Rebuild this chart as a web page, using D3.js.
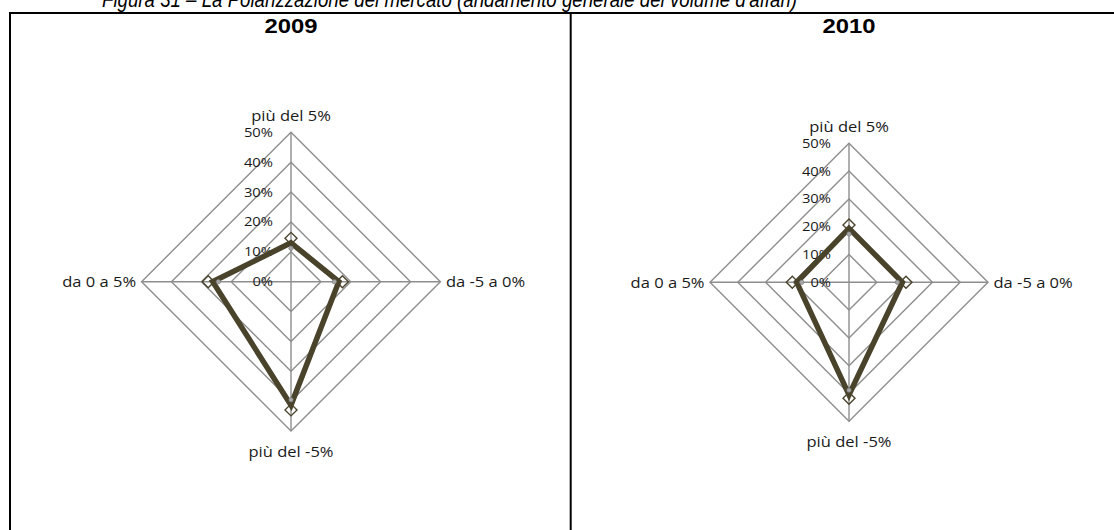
<!DOCTYPE html>
<html>
<head>
<meta charset="utf-8">
<script src="https://cdn.jsdelivr.net/npm/d3@7"></script>
<style>
  body { margin: 0; background: #fff; }
  svg { display: block; }
</style>
</head>
<body>
<div id="chart"></div>
<script>
// categories, clockwise from the top
var categories = ["più del 5%", "da -5 a 0%", "più del -5%", "da 0 a 5%"];
var years = ["2009", "2010"];
var tickValues = [0, 0.1, 0.2, 0.3, 0.4, 0.5];

// thick line series
var line2009 = [0.13, 0.16, 0.413, 0.262];
var line2010 = [0.194, 0.192, 0.405, 0.188];
// hollow diamond markers
var diamond2009 = [0.145, 0.172, 0.429, 0.277];
var diamond2010 = [0.206, 0.205, 0.417, 0.204];
// small grey dots
var dot2009 = [0.112, 0.145, 0.395, 0.243];
var dot2010 = [0.174, 0.174, 0.388, 0.17];

var width = 1114, height = 530;
var stretch = 1.18; // the labels in the source are drawn wider than normal

var svg = d3
    .select("#chart")
    .append("svg")
    .attr("width", width)
    .attr("height", height);

svg.append("text")
    .attr("x", 102)
    .attr("y", 6.5)
    .attr("textLength", 695)
    .attr("lengthAdjust", "spacingAndGlyphs")
    .style("font-family", "Liberation Sans, Arial, sans-serif")
    .style("font-style", "italic")
    .style("font-size", "22px")
    .style("fill", "#000")
    .text("Figura 31 – La Polarizzazione del mercato (andamento generale del volume d'affari)");

// frame
svg.append("line").attr("x1", 9).attr("x2", 1114).attr("y1", 13).attr("y2", 13)
    .style("stroke", "#000").style("stroke-width", 2);
svg.append("line").attr("x1", 10).attr("x2", 10).attr("y1", 12).attr("y2", 540)
    .style("stroke", "#000").style("stroke-width", 2);
svg.append("line").attr("x1", 570.7).attr("x2", 570.7).attr("y1", 12).attr("y2", 540)
    .style("stroke", "#000").style("stroke-width", 2);

var panels = [
    { year: years[0], cx: 291, cy: 281.7, r: 149.4, line: line2009, diamond: diamond2009, dot: dot2009 },
    { year: years[1], cx: 849, cy: 282.3, r: 139, line: line2010, diamond: diamond2010, dot: dot2010 }
];

var dark = "#4a432c";
var gridColor = "#8e8e8e";
var labelFont = "'Open Sans', 'Noto Sans', sans-serif";

function widen(sel) {
    sel.each(function () {
        var w = this.getComputedTextLength();
        d3.select(this)
            .attr("textLength", w * stretch)
            .attr("lengthAdjust", "spacingAndGlyphs");
    });
}

panels.forEach(function (p) {
    var g = svg.append("g")
        .attr("transform", "translate(" + p.cx + "," + p.cy + ")");

    var r = d3.scaleLinear().domain([0, 0.5]).range([0, p.r]);
    var angle = function (i) { return i * Math.PI / 2; };

    var pt = function (v, i) {
        return [Math.sin(angle(i)) * r(v), -Math.cos(angle(i)) * r(v)];
    };

    var radial = d3.lineRadial()
        .angle(function (d, i) { return angle(i); })
        .radius(function (d) { return r(d); })
        .curve(d3.curveLinearClosed);

    // year title
    svg.append("text")
        .attr("x", p.cx)
        .attr("y", 33)
        .attr("text-anchor", "middle")
        .attr("textLength", 53)
        .attr("lengthAdjust", "spacingAndGlyphs")
        .style("font-family", "Liberation Sans, Arial, sans-serif")
        .style("font-weight", "bold")
        .style("font-size", "20px")
        .text(p.year);

    // rings
    g.selectAll(".ring")
        .data(tickValues.slice(1))
        .enter()
        .append("path")
        .attr("d", function (t) { return radial(categories.map(function () { return t; })); })
        .style("fill", "none")
        .style("stroke", gridColor)
        .style("stroke-width", 1.4);

    // spokes
    g.selectAll(".spoke")
        .data(categories)
        .enter()
        .append("line")
        .attr("x1", 0).attr("y1", 0)
        .attr("x2", function (d, i) { return pt(0.5, i)[0]; })
        .attr("y2", function (d, i) { return pt(0.5, i)[1]; })
        .style("stroke", gridColor)
        .style("stroke-width", 1.4);

    // tick labels
    g.selectAll(".tick")
        .data(tickValues)
        .enter()
        .append("text")
        .attr("x", -18)
        .attr("y", function (t) { return -r(t); })
        .attr("text-anchor", "end")
        .attr("dominant-baseline", "central")
        .style("font-family", labelFont)
        .style("font-size", "12.5px")
        .style("fill", "#1a1a1a")
        .text(d3.format(".0%"))
        .call(widen);

    // category labels
    var offs = [[0, -17], [5.5, 0], [0, 20], [-5.5, 0]];
    var anchors = ["middle", "start", "middle", "end"];
    g.selectAll(".cat")
        .data(categories)
        .enter()
        .append("text")
        .attr("x", function (d, i) { return pt(0.5, i)[0] + offs[i][0]; })
        .attr("y", function (d, i) { return pt(0.5, i)[1] + offs[i][1]; })
        .attr("text-anchor", function (d, i) { return anchors[i]; })
        .attr("dominant-baseline", "central")
        .style("font-family", labelFont)
        .style("font-size", "14px")
        .style("fill", "#1a1a1a")
        .text(function (d) { return d; })
        .call(widen);

    // diamond markers
    g.selectAll(".diamond")
        .data(p.diamond)
        .enter()
        .append("path")
        .attr("d", d3.symbol().type(d3.symbolSquare).size(72))
        .attr("transform", function (d, i) {
            var q = pt(d, i);
            return "translate(" + q[0] + "," + q[1] + ") rotate(45)";
        })
        .style("fill", "none")
        .style("stroke", dark)
        .style("stroke-width", 1.4);

    // thick line
    g.append("path")
        .attr("d", radial(p.line))
        .style("fill", "none")
        .style("stroke", dark)
        .style("stroke-width", 5.5)
        .style("stroke-linejoin", "miter");

    // grey dots
    g.selectAll(".dot")
        .data(p.dot)
        .enter()
        .append("circle")
        .attr("cx", function (d, i) { return pt(d, i)[0]; })
        .attr("cy", function (d, i) { return pt(d, i)[1]; })
        .attr("r", 2.2)
        .style("fill", "#a8a8a8")
        .style("stroke", "#777")
        .style("stroke-width", 0.6);
});
</script>
</body>
</html>
